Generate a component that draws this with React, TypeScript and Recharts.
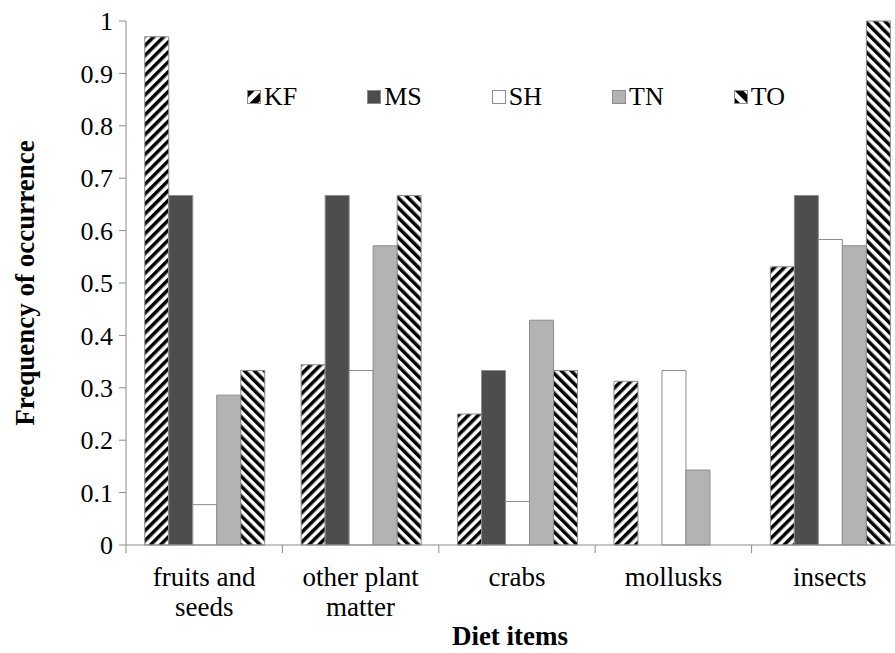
import { BarChart, Bar, XAxis, YAxis, Legend, Label } from "recharts";

const categories = [
  ["fruits and", "seeds"],
  ["other plant", "matter"],
  ["crabs"],
  ["mollusks"],
  ["insects"],
];
const kf = [0.97, 0.344, 0.25, 0.3125, 0.531];
const ms = [0.667, 0.667, 0.333, 0, 0.667];
const sh = [0.077, 0.333, 0.083, 0.333, 0.583];
const tn = [0.286, 0.571, 0.429, 0.143, 0.571];
const to = [0.333, 0.667, 0.333, 0, 1.0];
const yTicks = [0, 0.1, 0.2, 0.3, 0.4, 0.5, 0.6, 0.7, 0.8, 0.9, 1];

const series = [
  { key: "KF", values: kf, fill: "url(#kfStripe)", swatch: "url(#kfSwatch)" },
  { key: "MS", values: ms, fill: "#4d4d4d", swatch: "#4d4d4d" },
  { key: "SH", values: sh, fill: "#ffffff", swatch: "#ffffff" },
  { key: "TN", values: tn, fill: "#b3b3b3", swatch: "#b3b3b3" },
  { key: "TO", values: to, fill: "url(#toStripe)", swatch: "url(#toSwatch)" },
];

// one row per diet item, one column per site
const data = categories.map((lines, i) => {
  const row: Record<string, any> = { name: lines.join(" ") };
  series.forEach((s) => (row[s.key] = s.values[i]));
  return row;
});

const FONT = '"Liberation Serif", "Times New Roman", serif';
const AXIS = "#8c8c8c";

// Excel-style ticks sit on the category boundaries, labels in the middle
const CategoryTick = (props: any) => {
  const { x, y, payload, index } = props;
  const half = payload.offset ?? 0;
  const lines = categories[index] ?? [payload.value];
  return (
    <g>
      <line x1={x - half} x2={x - half} y1={y} y2={y + 8} stroke={AXIS} />
      {index === categories.length - 1 && (
        <line x1={x + half} x2={x + half} y1={y} y2={y + 8} stroke={AXIS} />
      )}
      <text x={x} y={y} textAnchor="middle" fontFamily={FONT} fontSize={27} fill="#000">
        {lines.map((l, i) => (
          <tspan key={i} x={x} dy={i === 0 ? 41 : 30}>
            {l}
          </tspan>
        ))}
      </text>
    </g>
  );
};

const YTitle = (props: any) => {
  const { viewBox } = props;
  const cx = viewBox.x + 25;
  const cy = viewBox.y + viewBox.height / 2;
  return (
    <text
      x={cx}
      y={cy}
      transform={`rotate(-90 ${cx} ${cy})`}
      textAnchor="middle"
      dominantBaseline="central"
      fontFamily={FONT}
      fontSize={27}
      fontWeight="bold"
      fill="#000"
    >
      Frequency of occurrence
    </text>
  );
};

const XTitle = (props: any) => {
  const { viewBox } = props;
  const cx = viewBox.x + viewBox.width / 2 - 7;
  return (
    <text
      x={cx}
      y={viewBox.y + 100}
      textAnchor="middle"
      fontFamily={FONT}
      fontSize={27}
      fontWeight="bold"
      fill="#000"
    >
      Diet items
    </text>
  );
};

const LegendContent = () => (
  <div style={{ display: "flex", gap: 70, fontFamily: FONT, fontSize: 26, lineHeight: "30px" }}>
    {series.map((s) => (
      <div key={s.key} style={{ display: "flex", alignItems: "center" }}>
        <svg width={14} height={14} style={{ marginRight: 3 }}>
          <rect x={0.5} y={0.5} width={13} height={13} fill={s.swatch} stroke={AXIS} />
        </svg>
        <span>{s.key}</span>
      </div>
    ))}
  </div>
);

export default function App() {
  return (
    <div
      style={{
        position: "absolute",
        left: 0,
        top: 0,
        width: 895,
        height: 653,
        overflow: "hidden",
        background: "#fff",
      }}
    >
      <BarChart
        width={910}
        height={653}
        data={data}
        margin={{ top: 21, right: 2, bottom: 0, left: 0 }}
        barCategoryGap="12%"
        barGap={0}
      >
        <defs>
          <pattern id="kfStripe" patternUnits="userSpaceOnUse" width="7" height="7" patternTransform="rotate(45)">
            <rect width="7" height="7" fill="#fff" />
            <rect width="3.5" height="7" fill="#000" />
          </pattern>
          <pattern id="toStripe" patternUnits="userSpaceOnUse" width="7" height="7" patternTransform="rotate(-45)">
            <rect width="7" height="7" fill="#fff" />
            <rect width="3.5" height="7" fill="#000" />
          </pattern>
          <pattern id="kfSwatch" patternUnits="userSpaceOnUse" width="11" height="11" patternTransform="rotate(45)">
            <rect width="11" height="11" fill="#fff" />
            <rect width="6" height="11" fill="#000" />
          </pattern>
          <pattern id="toSwatch" patternUnits="userSpaceOnUse" width="11" height="11" patternTransform="rotate(-45)">
            <rect width="11" height="11" fill="#fff" />
            <rect width="6" height="11" fill="#000" />
          </pattern>
        </defs>
        <XAxis
          dataKey="name"
          height={108}
          stroke={AXIS}
          tickLine={false}
          tickSize={0}
          tickMargin={0}
          tick={<CategoryTick />}
          interval={0}
        >
          <Label content={<XTitle />} />
        </XAxis>
        <YAxis
          width={126}
          domain={[0, 1]}
          ticks={yTicks}
          tickSize={7}
          tickMargin={6}
          stroke={AXIS}
          tick={{ fill: "#000", fontSize: 26, fontFamily: FONT }}
        >
          <Label content={<YTitle />} />
        </YAxis>
        <Legend
          verticalAlign="middle"
          align="center"
          layout="horizontal"
          content={<LegendContent />}
          wrapperStyle={{ left: 247, top: 82, width: "auto" }}
        />
        {series.map((s) => (
          <Bar
            key={s.key}
            dataKey={s.key}
            fill={s.fill}
            stroke={AXIS}
            strokeWidth={1}
            isAnimationActive={false}
          />
        ))}
      </BarChart>
    </div>
  );
}
